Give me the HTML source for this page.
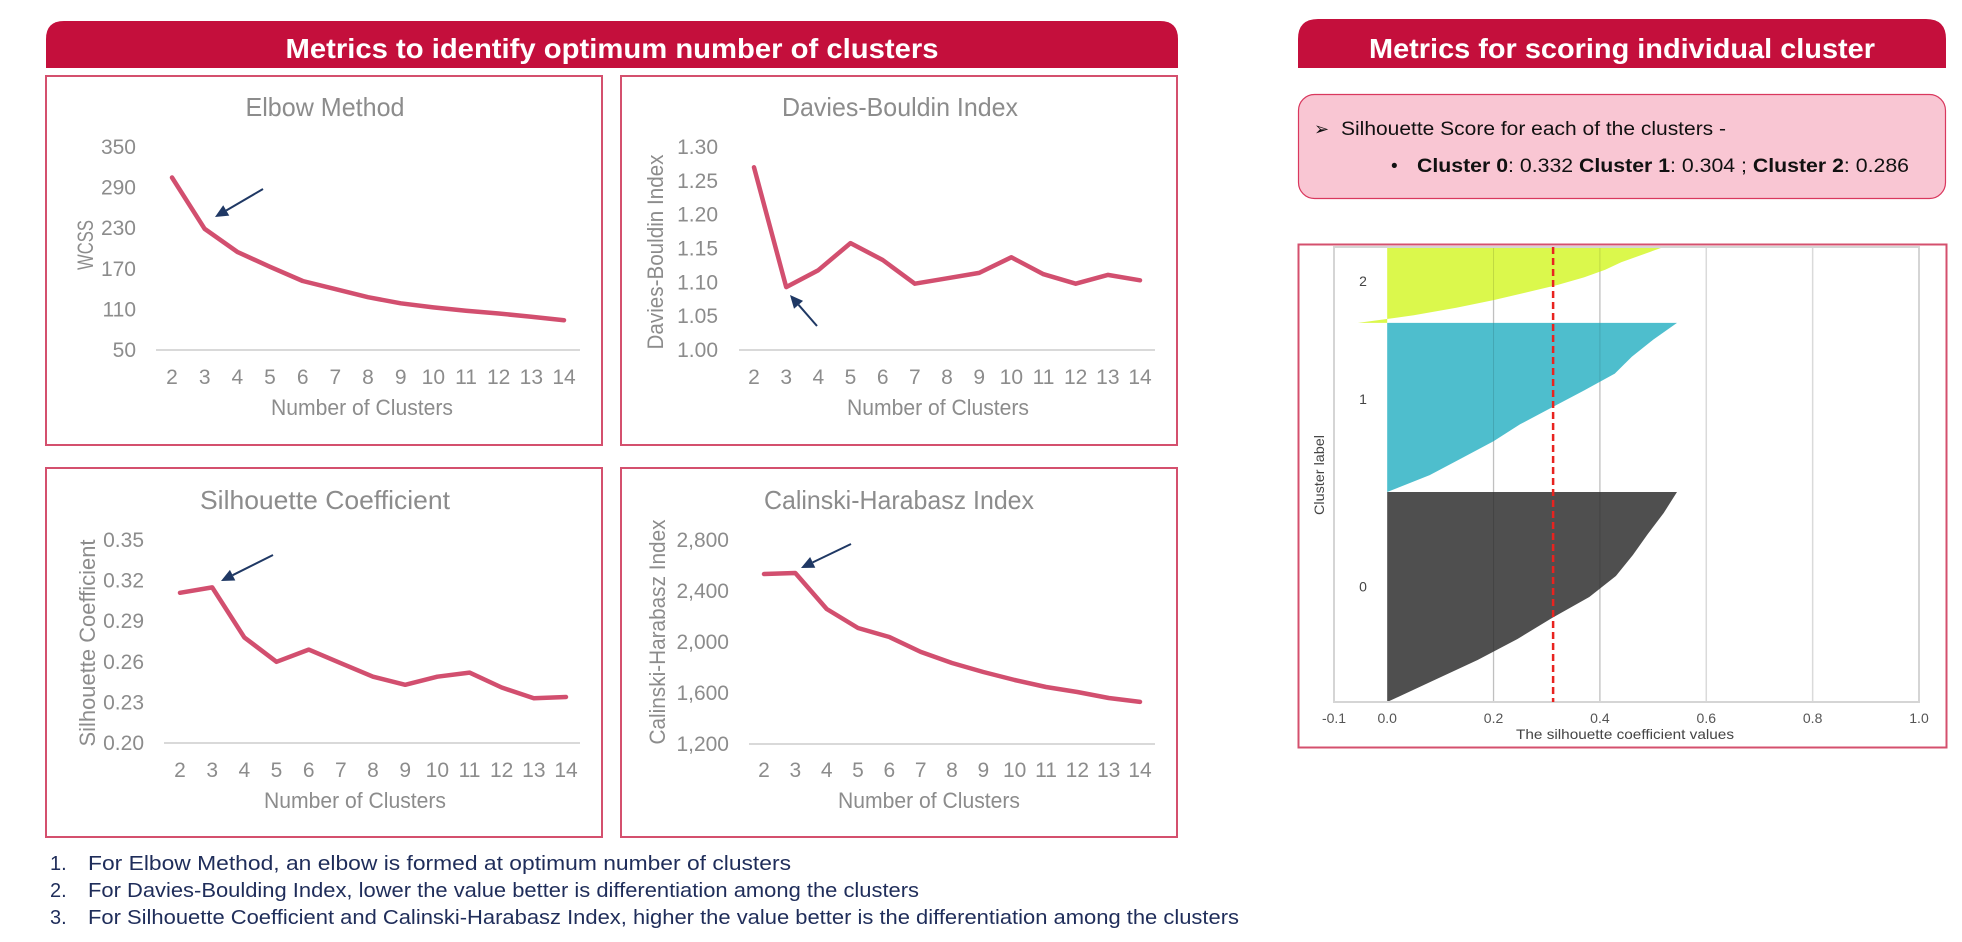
<!DOCTYPE html>
<html><head><meta charset="utf-8"><style>
html,body{margin:0;padding:0;background:#fff;}
svg{display:block;font-family:"Liberation Sans",sans-serif;}
</style></head><body>
<svg id="root" width="1962" height="942" viewBox="0 0 1962 942" xmlns="http://www.w3.org/2000/svg">
  <g>
    <path d="M46,68 V39 Q46,21 64,21 H1160 Q1178,21 1178,39 V68 Z" fill="#C40F3C"/>
    <text x="612" y="58" text-anchor="middle" fill="#fff" font-weight="bold" font-size="28" textLength="653" lengthAdjust="spacingAndGlyphs">Metrics to identify optimum number of clusters</text>
  </g>
  <g>
    <path d="M1298,68 V39 Q1298,19 1318,19 H1926 Q1946,19 1946,39 V68 Z" fill="#C40F3C"/>
    <text x="1622" y="58" text-anchor="middle" fill="#fff" font-weight="bold" font-size="28" textLength="506" lengthAdjust="spacingAndGlyphs">Metrics for scoring individual cluster</text>
  </g>
  <g>
    <rect x="1298.5" y="94.5" width="647" height="104" rx="16" fill="#F9C6D3" stroke="#D9385E" stroke-width="1.2"/>
    <text x="1314" y="135" font-size="18" fill="#111">➢</text>
    <text x="1341" y="135" font-size="19" fill="#111" textLength="385" lengthAdjust="spacingAndGlyphs">Silhouette Score for each of the clusters -</text>
    <text x="1391" y="172" font-size="19" fill="#111">•</text>
    <text x="1417" y="172" font-size="19" fill="#111" textLength="492" lengthAdjust="spacingAndGlyphs"><tspan font-weight="bold">Cluster 0</tspan>: 0.332  <tspan font-weight="bold">Cluster 1</tspan>: 0.304 ; <tspan font-weight="bold">Cluster 2</tspan>: 0.286</text>
  </g>
  <g id="charts"></g>
  <g id="silplot"></g>
  <g fill="#1F2D5A" font-size="20">
    <text x="50" y="870">1.</text>
    <text x="88" y="870" textLength="703" lengthAdjust="spacingAndGlyphs">For Elbow Method, an elbow is formed at optimum number of clusters</text>
    <text x="50" y="897">2.</text>
    <text x="88" y="897" textLength="831" lengthAdjust="spacingAndGlyphs">For Davies-Boulding Index, lower the value better is differentiation among the clusters</text>
    <text x="50" y="924">3.</text>
    <text x="88" y="924" textLength="1151" lengthAdjust="spacingAndGlyphs">For Silhouette Coefficient and Calinski-Harabasz Index, higher the value better is the differentiation among the clusters</text>
  </g>
</svg>
<script>
// ---- Line chart data ----
const clusterCounts = [2,3,4,5,6,7,8,9,10,11,12,13,14];
const elbowValues = [305,229,195,173,152,140,128,119,113,108,104,99,94];
const elbowTicks = [50,110,170,230,290,350];
const dbValues = [1.270,1.093,1.118,1.158,1.133,1.098,1.106,1.114,1.137,1.112,1.098,1.111,1.103];
const dbTicks = [1.00,1.05,1.10,1.15,1.20,1.25,1.30];
const silValues = [0.311,0.315,0.278,0.260,0.269,0.259,0.249,0.243,0.249,0.252,0.241,0.233,0.234];
const silTicks = [0.20,0.23,0.26,0.29,0.32,0.35];
const chValues = [2533,2541,2259,2110,2039,1922,1835,1765,1702,1647,1608,1561,1530];
const chTicks = [1200,1600,2000,2400,2800];

// ---- Silhouette plot data ----
const silXTicks = [-0.1,0.0,0.2,0.4,0.6,0.8,1.0];
const clusterLabels = ["0","1","2"];
const clusterSizes = [415,334,150];
const cluster0Sil = [0.545,0.52,0.49,0.462,0.43,0.38,0.31,0.245,0.17,0.085,0.0];
const cluster1Sil = [0.545,0.50,0.46,0.428,0.37,0.31,0.25,0.20,0.14,0.08,0.0];
const cluster2Sil = [0.52,0.48,0.44,0.41,0.37,0.32,0.26,0.20,0.13,0.05,-0.055];
const averageSilhouette = 0.312;

const NS = "http://www.w3.org/2000/svg";
function el(tag, attrs, parent){
  const e = document.createElementNS(NS, tag);
  for (const k in attrs) e.setAttribute(k, attrs[k]);
  parent.appendChild(e);
  return e;
}
const charts = document.getElementById('charts');
const GRAY = "#8C8C8C";

function lineChart(c){
  const g = el('g', {}, charts);
  
  
  const border = el('rect', {x:c.px+1, y:c.py+1, width:c.pw-2, height:c.ph-2, fill:'#fff', stroke:'#D4506E', 'stroke-width':2}, g);
  
  
  const t = el('text', {x:c.titleX, y:c.titleY, 'text-anchor':'middle', fill:GRAY, 'font-size':26, textLength:c.titleW, lengthAdjust:'spacingAndGlyphs'}, g);
  t.textContent = c.title;
  
  
  const ymin = c.ticks[0], ymax = c.ticks[c.ticks.length-1];
  const ys = v => c.yBottom - (v - ymin) / (ymax - ymin) * (c.yBottom - c.yTop);
  const xs = i => c.x0 + (i) / (c.xcats.length - 1) * (c.x1 - c.x0);
  const base = el('line', {x1:c.bx0, x2:c.bx1, y1:c.yBottom, y2:c.yBottom, stroke:'#D9D9D9', 'stroke-width':2}, g);
  
  
  c.ticks.forEach(v => {
    const tl = el('text', {x:c.labelR, y:ys(v)+7, 'text-anchor':'end', fill:GRAY, 'font-size':21}, g);
    tl.textContent = c.fmt(v);
    
    
  });
  c.xcats.forEach((v,i) => {
    const tl = el('text', {x:xs(i), y:c.xLabelY+7, 'text-anchor':'middle', fill:GRAY, 'font-size':21}, g);
    tl.textContent = v;
    
    
  });
  const xt = el('text', {x:c.xTitleX, y:c.xTitleY+8, 'text-anchor':'middle', fill:GRAY, 'font-size':22, textLength:182, lengthAdjust:'spacingAndGlyphs'}, g);
  xt.textContent = 'Number of Clusters';
  
  
  const yt = el('text', {x:0, y:0, 'text-anchor':'middle', fill:GRAY, 'font-size':22, textLength:c.yTitleW, lengthAdjust:'spacingAndGlyphs', transform:`translate(${c.yTitleX+8},${c.yTitleY}) rotate(-90)`}, g);
  yt.textContent = c.yTitle;
  
  
  const pts = c.values.map((v,i) => xs(i).toFixed(1) + ',' + ys(v).toFixed(1)).join(' ');
  const pl = el('polyline', {points:pts, fill:'none', stroke:'#D24F6F', 'stroke-width':4.5, 'stroke-linejoin':'round', 'stroke-linecap':'round'}, g);
  
  
  const [ax1, ay1, ax2, ay2] = c.arrow;
  const ang = Math.atan2(ay2-ay1, ax2-ax1);
  const L = 13, W = 6;
  const bx = ax2 - L*Math.cos(ang), by = ay2 - L*Math.sin(ang);
  const ar = el('g', {}, g);
  
  
  el('line', {x1:ax1, y1:ay1, x2:bx, y2:by, stroke:'#1F3864', 'stroke-width':2}, ar);
  el('polygon', {points:`${ax2},${ay2} ${bx+W*Math.sin(ang)},${by-W*Math.cos(ang)} ${bx-W*Math.sin(ang)},${by+W*Math.cos(ang)}`, fill:'#1F3864'}, ar);
}

lineChart({name:'elbow-chart', px:45, py:75, pw:558, ph:371, title:'Elbow Method', titleX:325, titleY:116, titleW:159,
  xcats:clusterCounts, values:elbowValues, ticks:elbowTicks, fmt:v=>String(v), yTop:147, yBottom:350,
  x0:172, x1:564, bx0:156, bx1:580, labelR:136, xLabelY:377, xTitleX:362, xTitleY:407,
  yTitle:'WCSS', yTitleX:85, yTitleY:245, yTitleW:50, arrow:[263,189,215,217]});
lineChart({name:'davies-bouldin-chart', px:620, py:75, pw:558, ph:371, title:'Davies-Bouldin Index', titleX:900, titleY:116, titleW:236,
  xcats:clusterCounts, values:dbValues, ticks:dbTicks, fmt:v=>v.toFixed(2), yTop:147, yBottom:350,
  x0:754, x1:1140, bx0:739, bx1:1155, labelR:718, xLabelY:377, xTitleX:938, xTitleY:407,
  yTitle:'Davies-Bouldin Index', yTitleX:655, yTitleY:252, yTitleW:195, arrow:[817,326,790,295]});
lineChart({name:'silhouette-coefficient-chart', px:45, py:467, pw:558, ph:371, title:'Silhouette Coefficient', titleX:325, titleY:509, titleW:250,
  xcats:clusterCounts, values:silValues, ticks:silTicks, fmt:v=>v.toFixed(2), yTop:540, yBottom:743,
  x0:180, x1:566, bx0:164, bx1:580, labelR:144, xLabelY:770, xTitleX:355, xTitleY:800,
  yTitle:'Silhouette Coefficient', yTitleX:87, yTitleY:643, yTitleW:207, arrow:[273,555,221,581]});
lineChart({name:'calinski-harabasz-chart', px:620, py:467, pw:558, ph:371, title:'Calinski-Harabasz Index', titleX:899, titleY:509, titleW:270,
  xcats:clusterCounts, values:chValues, ticks:chTicks, fmt:v=>v.toLocaleString('en-US'), yTop:540, yBottom:744,
  x0:764, x1:1140, bx0:749, bx1:1155, labelR:729, xLabelY:770, xTitleX:929, xTitleY:800,
  yTitle:'Calinski-Harabasz Index', yTitleX:657, yTitleY:632, yTitleW:225, arrow:[851,544,801,568]});

(function(){
  const root = document.getElementById('silplot');
  const g = el('g', {}, root);
  
  
  const fr = el('rect', {x:1298.5, y:244.5, width:648, height:503, fill:'#fff', stroke:'#D4506E', 'stroke-width':2}, g);
  
  
  const L = 1334, R = 1919, T = 247, B = 702;
  const xmin = silXTicks[0], xmax = silXTicks[silXTicks.length-1];
  const xs = v => L + (v - xmin) / (xmax - xmin) * (R - L);
  silXTicks.forEach(v => {
    if (v > 0 && v < xmax) {
      const gl = el('line', {x1:xs(v), x2:xs(v), y1:T, y2:B, stroke:'#DADADA', 'stroke-width':1.5}, g);
      
      
    }
  });
  const total = clusterSizes.reduce((a,b)=>a+b,0);
  const ppu = (B - T) / total;
  const series = [cluster0Sil, cluster1Sil, cluster2Sil];
  const colors = ['#494949', '#48BCCB', '#DAF846'];
  let yb = B;
  series.forEach((vals, ci) => {
    const h = clusterSizes[ci] * ppu;
    const top = yb - h;
    let d = `M${xs(0)},${top}`;
    vals.forEach((v,i) => { d += ` L${xs(v).toFixed(1)},${(top + i/(vals.length-1)*h).toFixed(1)}`; });
    d += ` L${xs(0)},${yb} Z`;
    const p = el('path', {d:d, fill:colors[ci], opacity:0.97}, g);
    
    
    const lb = el('text', {x:1363, y:top + h*0.45 + 5, 'text-anchor':'middle', fill:'#444', 'font-size':14}, g);
    lb.textContent = clusterLabels[ci];
    
    
    yb = top;
  });
  silXTicks.forEach(v => {
    if (v > 0 && v < 0.6) el('line', {x1:xs(v), x2:xs(v), y1:T, y2:B, stroke:'rgba(0,0,0,0.12)', 'stroke-width':1}, g);
  });
  const pa = el('rect', {x:L, y:T, width:R-L, height:B-T, fill:'none', stroke:'#D5D5D5', 'stroke-width':2}, g);
  
  
  const avg = el('line', {x1:xs(averageSilhouette), x2:xs(averageSilhouette), y1:T, y2:B, stroke:'#E8231F', 'stroke-width':2.5, 'stroke-dasharray':'7,4'}, g);
  
  
  silXTicks.forEach(v => {
    const tl = el('text', {x:xs(v), y:723, 'text-anchor':'middle', fill:'#555', 'font-size':14}, g);
    tl.textContent = v.toFixed(1);
    
    
  });
  const xt = el('text', {x:1625, y:739, 'text-anchor':'middle', fill:'#444', 'font-size':14, textLength:218, lengthAdjust:'spacingAndGlyphs'}, g);
  xt.textContent = 'The silhouette coefficient values';
  
  
  const yt = el('text', {x:0, y:0, 'text-anchor':'middle', fill:'#444', 'font-size':14, transform:'translate(1324,475) rotate(-90)', textLength:80, lengthAdjust:'spacingAndGlyphs'}, g);
  yt.textContent = 'Cluster label';
  
  
})();
</script>
</body></html>
